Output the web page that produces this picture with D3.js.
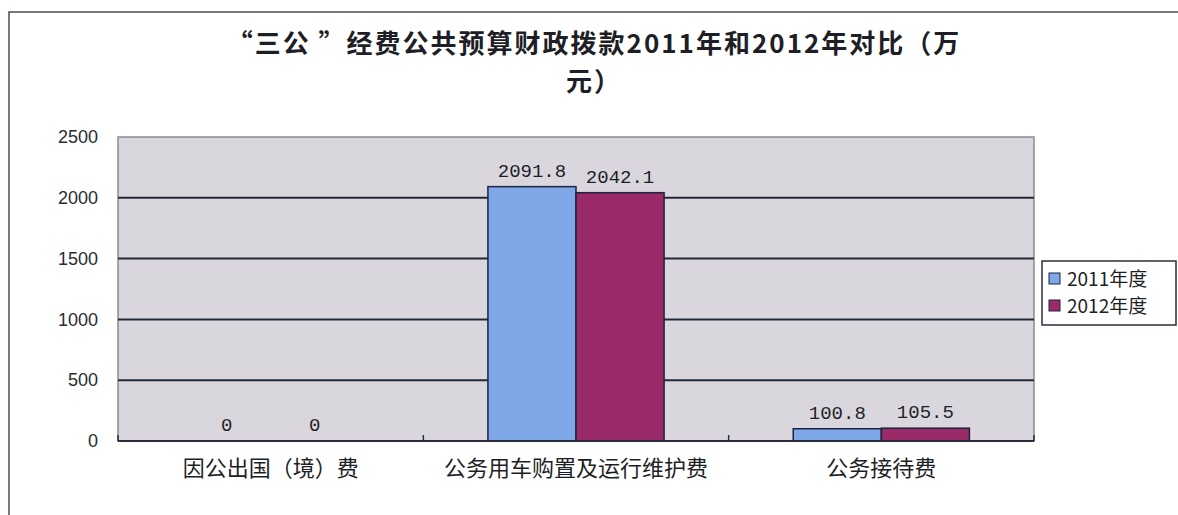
<!DOCTYPE html>
<html>
<head>
<meta charset="utf-8">
<script src="https://cdn.jsdelivr.net/npm/d3@7"></script>
<style>
  body { margin: 0; background: #fff; }
  svg { display: block; font-family: "Noto Sans CJK SC", "Noto Sans", sans-serif; }
</style>
</head>
<body>
<div id="chart"></div>
<script>
// data
const categories = ['因公出国（境）费', '公务用车购置及运行维护费', '公务接待费'];
const seriesNames = ['2011年度', '2012年度'];
const values2011 = [0, 2091.8, 100.8];
const values2012 = [0, 2042.1, 105.5];
const yTicks = [0, 500, 1000, 1500, 2000, 2500];
const titleLines = ['“三公 ”经费公共预算财政拨款2011年和2012年对比（万', '元）'];

const colors = ['#7da7e6', '#9a2a68'];

const width = 1178, height = 515;
const margin = {top: 137, right: 144, bottom: 74, left: 118};
const innerW = width - margin.left - margin.right;
const innerH = height - margin.top - margin.bottom;

const svg = d3.select('#chart').append('svg')
    .attr('width', width)
    .attr('height', height);

// outer frame (only top and left edge are in the photo)
svg.append('path')
    .attr('d', `M9,515 V12 H1178`)
    .attr('fill', 'none')
    .attr('stroke', '#4a4d55')
    .attr('stroke-width', 1.5);

// title, wrapped the same odd way as the original
svg.append('g').selectAll('text')
    .data(titleLines)
  .join('text')
    .attr('x', 594)
    .attr('y', (d, i) => 53 + i * 38)
    .attr('text-anchor', 'middle')
    .attr('font-size', 26)
    .attr('font-weight', 'bold')
    .attr('letter-spacing', 2)
    .attr('fill', '#1e1f26')
    .text(d => d);

const chart = svg.append('g')
    .attr('transform', `translate(${margin.left},${margin.top})`);

const y = d3.scaleLinear().domain([0, 2500]).range([innerH, 0]);

const x0 = d3.scaleBand()
    .domain(categories)
    .range([0, innerW])
    .paddingInner(0.423)
    .paddingOuter(0.2115);

const x1 = d3.scaleBand()
    .domain(seriesNames)
    .range([0, x0.bandwidth()]);

const rows = categories.map((c, i) => ({
  cat: c,
  vals: [
    {name: seriesNames[0], value: values2011[i]},
    {name: seriesNames[1], value: values2012[i]}
  ]
}));

// plot background
chart.append('rect')
    .attr('width', innerW)
    .attr('height', innerH)
    .attr('fill', '#d9d7dd')
    .attr('stroke', '#8a8a92')
    .attr('stroke-width', 1.5);

// gridlines
chart.append('g').selectAll('line')
    .data(yTicks.filter(t => t > 0 && t < 2500))
  .join('line')
    .attr('x1', 0)
    .attr('x2', innerW)
    .attr('y1', d => y(d))
    .attr('y2', d => y(d))
    .attr('stroke', '#232838')
    .attr('stroke-width', 2);

// y axis labels
const yAxis = chart.append('g')
    .call(d3.axisLeft(y).tickValues(yTicks).tickSize(0).tickPadding(20).tickFormat(d3.format('d')));
yAxis.select('.domain').remove();
yAxis.selectAll('text')
    .attr('font-family', '"Liberation Sans", Arial, sans-serif')
    .attr('font-size', 18)
    .attr('fill', '#2a2b33');

// bars
const groups = chart.append('g').selectAll('g')
    .data(rows)
  .join('g')
    .attr('transform', d => `translate(${x0(d.cat)},0)`);

groups.selectAll('rect')
    .data(d => d.vals)
  .join('rect')
    .attr('x', d => x1(d.name))
    .attr('y', d => y(d.value))
    .attr('width', x1.bandwidth())
    .attr('height', d => innerH - y(d.value))
    .attr('fill', (d, i) => colors[i])
    .attr('stroke', d => d.value > 0 ? '#1c2440' : 'none')
    .attr('stroke-width', 1.5);

groups.selectAll('text')
    .data(d => d.vals)
  .join('text')
    .attr('x', d => x1(d.name) + x1.bandwidth() / 2)
    .attr('y', d => y(d.value) - 10)
    .attr('text-anchor', 'middle')
    .attr('font-family', '"Liberation Mono", "DejaVu Sans Mono", monospace')
    .attr('font-size', 19)
    .attr('fill', '#1e1f26')
    .text(d => d.value);

// x axis
const xAxis = chart.append('g')
    .attr('transform', `translate(0,${innerH})`);
xAxis.append('line')
    .attr('x1', 0).attr('x2', innerW)
    .attr('stroke', '#2a2e3a')
    .attr('stroke-width', 2);
xAxis.selectAll('.tick-mark')
    .data(d3.range(categories.length + 1))
  .join('line')
    .attr('class', 'tick-mark')
    .attr('x1', i => i * x0.step())
    .attr('x2', i => i * x0.step())
    .attr('y1', 0)
    .attr('y2', -6)
    .attr('stroke', '#2a2e3a')
    .attr('stroke-width', 1.5);
xAxis.selectAll('.cat-label')
    .data(categories)
  .join('text')
    .attr('class', 'cat-label')
    .attr('x', d => x0(d) + x0.bandwidth() / 2)
    .attr('y', 35)
    .attr('text-anchor', 'middle')
    .attr('font-size', 22)
    .attr('fill', '#1e1f26')
    .text(d => d);

// legend
const legend = svg.append('g')
    .attr('transform', 'translate(1042,261)');
legend.append('rect')
    .attr('width', 134)
    .attr('height', 64)
    .attr('fill', '#fff')
    .attr('stroke', '#2a2e3a')
    .attr('stroke-width', 1.5);
const items = legend.selectAll('.item')
    .data(seriesNames)
  .join('g')
    .attr('class', 'item')
    .attr('transform', (d, i) => `translate(7,${18 + i * 27})`);
items.append('rect')
    .attr('x', 0)
    .attr('y', -6)
    .attr('width', 11)
    .attr('height', 11)
    .attr('fill', (d, i) => colors[i])
    .attr('stroke', '#1c2440')
    .attr('stroke-width', 1);
items.append('text')
    .attr('x', 18)
    .attr('y', 0)
    .attr('dy', '0.35em')
    .attr('font-size', 19)
    .attr('fill', '#1e1f26')
    .text(d => d);
</script>
</body>
</html>
